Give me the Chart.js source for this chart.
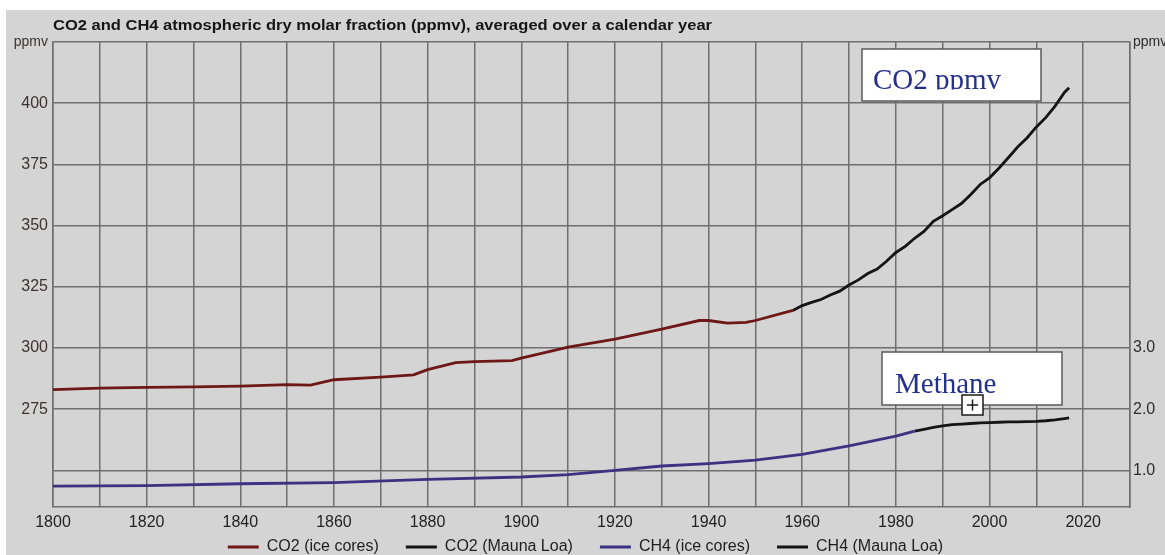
<!DOCTYPE html>
<html>
<head>
<meta charset="utf-8">
<script src="https://cdn.jsdelivr.net/npm/chart.js@4"></script>
<style>
  html, body { margin: 0; padding: 0; background: #fff; }
  #wrap { position: absolute; left: 6px; top: 10px; width: 1159px; height: 545px; background: #d4d4d4; }
</style>
</head>
<body>
<div id="wrap"><canvas id="grafico" width="1159" height="545"></canvas></div>
<script>
// CO2 ice cores (ppmv)
const co2IceYears  = [1800, 1810, 1820, 1830, 1840, 1850, 1855, 1860, 1870, 1877, 1880, 1886, 1890, 1898, 1900, 1910, 1920, 1930, 1938, 1940, 1944, 1948, 1950, 1958];
const co2IceValues = [283.0, 283.6, 283.9, 284.1, 284.4, 285.0, 284.8, 287.0, 288.1, 289.0, 291.1, 294.0, 294.4, 294.8, 295.8, 300.3, 303.6, 307.7, 311.2, 311.2, 310.1, 310.4, 311.2, 315.3];

// CO2 Mauna Loa (ppmv)
const co2MloYears  = [1958, 1960, 1962, 1964, 1966, 1968, 1970, 1972, 1974, 1976, 1978, 1980, 1982, 1984, 1986, 1988, 1990, 1992, 1994, 1996, 1998, 2000, 2002, 2004, 2006, 2008, 2010, 2012, 2014, 2016, 2017];
const co2MloValues = [315.3, 317.3, 318.6, 319.8, 321.6, 323.2, 325.7, 327.8, 330.4, 332.2, 335.4, 339.0, 341.5, 344.8, 347.6, 351.7, 354.0, 356.5, 359.0, 362.7, 366.8, 369.5, 373.4, 377.7, 382.1, 385.8, 390.3, 394.1, 398.8, 404.4, 406.3];

// CH4 ice cores (ppmv)
const ch4IceYears  = [1800, 1820, 1840, 1860, 1880, 1900, 1910, 1920, 1930, 1940, 1950, 1960, 1970, 1980, 1984];
const ch4IceValues = [0.74, 0.75, 0.78, 0.80, 0.85, 0.89, 0.93, 1.00, 1.07, 1.11, 1.165, 1.26, 1.40, 1.56, 1.64];

// CH4 Mauna Loa (ppmv)
const ch4MloYears  = [1984, 1986, 1988, 1990, 1992, 1994, 1996, 1998, 2000, 2002, 2004, 2006, 2008, 2010, 2012, 2014, 2016, 2017];
const ch4MloValues = [1.640, 1.670, 1.700, 1.725, 1.745, 1.755, 1.765, 1.775, 1.780, 1.785, 1.790, 1.790, 1.795, 1.800, 1.810, 1.825, 1.845, 1.855];

// ticks
const yLeftTicks  = [250, 275, 300, 325, 350, 375, 400, 425];
const yRightTicks = [1.0, 2.0, 3.0, 8.0];

const titulo = 'CO2 and CH4 atmospheric dry molar fraction (ppmv), averaged over a calendar year';

const puntos = (xs, ys) => xs.map((x, i) => ({ x: x, y: ys[i] }));
const GRID = '#6f6f6f';
const SANS = '"Liberation Sans", Arial, sans-serif';

// texto estirado a un ancho dado
function textoAncho(ctx, txt, x, y, ancho) {
    const w = ctx.measureText(txt).width;
    ctx.save();
    ctx.translate(x, y);
    ctx.scale(ancho / w, 1);
    ctx.fillText(txt, 0, 0);
    ctx.restore();
}

function cuadro(ctx, x, y, w, h, txt, tx, ty) {
    ctx.save();
    ctx.fillStyle = '#ffffff';
    ctx.fillRect(x, y, w, h);
    ctx.strokeStyle = '#5a5a5a';
    ctx.lineWidth = 1.5;
    ctx.strokeRect(x, y, w, h);
    ctx.beginPath();
    ctx.rect(x, y, w, ty + 1 - y);
    ctx.clip();
    ctx.font = '29px "Liberation Serif", "Times New Roman", serif';
    ctx.fillStyle = '#25308a';
    ctx.textBaseline = 'alphabetic';
    ctx.fillText(txt, tx, ty);
    ctx.restore();
}

const extras = {
    id: 'extras',
    afterDraw(chart) {
        const ctx = chart.ctx;
        ctx.save();
        ctx.font = 'bold 14px ' + SANS;
        ctx.fillStyle = '#151515';
        ctx.textBaseline = 'alphabetic';
        textoAncho(ctx, titulo, 47, 20, 659);
        ctx.restore();

        cuadro(ctx, 856, 39, 179, 52, 'CO2 ppmv', 867, 78.5);
        cuadro(ctx, 876, 342, 180, 53, 'Methane', 889, 383);

        // icono +
        ctx.save();
        ctx.fillStyle = '#ffffff';
        ctx.fillRect(956, 385, 21, 20);
        ctx.strokeStyle = '#1a1a1a';
        ctx.lineWidth = 1.5;
        ctx.strokeRect(956, 385, 21, 20);
        ctx.beginPath();
        ctx.moveTo(961, 395); ctx.lineTo(972, 395);
        ctx.moveTo(966.5, 389.5); ctx.lineTo(966.5, 400.5);
        ctx.stroke();
        ctx.restore();
    }
};

const config = {
    type: 'line',
    data: {
        datasets: [{
            label: 'CO2 (ice cores)',
            data: puntos(co2IceYears, co2IceValues),
            borderColor: '#6e1717',
            yAxisID: 'y'
        }, {
            label: 'CO2 (Mauna Loa)',
            data: puntos(co2MloYears, co2MloValues),
            borderColor: '#141414',
            yAxisID: 'y'
        }, {
            label: 'CH4 (ice cores)',
            data: puntos(ch4IceYears, ch4IceValues),
            borderColor: '#3b3282',
            yAxisID: 'y2'
        }, {
            label: 'CH4 (Mauna Loa)',
            data: puntos(ch4MloYears, ch4MloValues),
            borderColor: '#141414',
            yAxisID: 'y2'
        }]
    },
    options: {
        responsive: false,
        animation: false,
        layout: { padding: { top: 32, left: 0, right: 0, bottom: -10 } },
        elements: {
            line: { borderWidth: 2.8, tension: 0, fill: false },
            point: { radius: 0 }
        },
        plugins: {
            title: { display: false },
            tooltip: { enabled: false },
            legend: {
                position: 'bottom',
                labels: {
                    boxWidth: 31,
                    boxHeight: 3,
                    padding: 27,
                    color: '#1e1e1e',
                    font: { family: SANS, size: 16 },
                    generateLabels: (chart) => Chart.defaults.plugins.legend.labels.generateLabels(chart)
                        .map(l => Object.assign(l, { fillStyle: l.strokeStyle, lineWidth: 0 }))
                }
            }
        },
        scales: {
            x: {
                type: 'linear',
                min: 1800,
                max: 2030,
                afterFit: (s) => { s.height = 5; },
                ticks: {
                    stepSize: 10,
                    autoSkip: false,
                    maxRotation: 0,
                    // etiquetas debajo del eje sin recorte
                    mirror: true,
                    padding: -25,
                    color: '#222',
                    font: { family: SANS, size: 16 },
                    callback: (v) => (v % 20 === 0 && v < 2030) ? String(v) : ''
                },
                grid: { color: GRID, lineWidth: 1.5, drawTicks: false },
                border: { color: GRID, width: 1.5 }
            },
            y: {
                position: 'left',
                min: 235,
                max: 425,
                afterFit: (s) => { s.width = 47; },
                afterBuildTicks: (s) => { s.ticks = yLeftTicks.map(v => ({ value: v })); },
                ticks: {
                    padding: 5,
                    color: '#3e3232',
                    font: (c) => ({ family: SANS, size: c.tick && c.tick.value === 425 ? 14 : 16 }),
                    callback: (v) => v === 425 ? 'ppmv' : (v === 250 ? '' : String(v))
                },
                grid: { color: GRID, lineWidth: 1.5, drawTicks: false },
                border: { color: GRID, width: 1.5 }
            },
            y2: {
                position: 'right',
                min: 0.4,
                max: 8.0,
                afterFit: (s) => { s.width = 35; },
                afterBuildTicks: (s) => { s.ticks = yRightTicks.map(v => ({ value: v })); },
                ticks: {
                    padding: 3,
                    color: '#2e2e2e',
                    font: (c) => ({ family: SANS, size: c.tick && c.tick.value === 8 ? 14 : 16 }),
                    callback: (v) => v === 8 ? 'ppmv' : v.toFixed(1)
                },
                grid: { display: false, drawTicks: false },
                border: { color: GRID, width: 1.5 }
            }
        }
    },
    plugins: [extras]
};

const ctx = document.getElementById('grafico').getContext('2d');
new Chart(ctx, config);
</script>
</body>
</html>
